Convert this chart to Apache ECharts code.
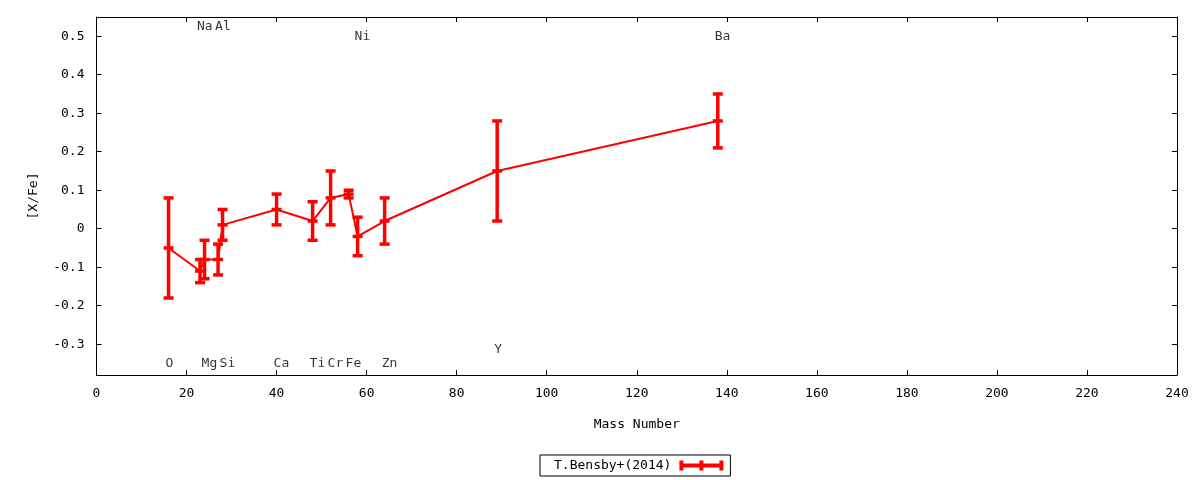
<!DOCTYPE html>
<html>
<head>
<meta charset="utf-8">
<script src="https://cdn.jsdelivr.net/npm/echarts@6/dist/echarts.min.js"></script>
<style>
html,body{margin:0;padding:0;background:#fff;}
#chart{width:1200px;height:480px;}
</style>
</head>
<body>
<div id="chart"></div>
<script>
// Data
var massNumbers = [16, 23, 24, 27, 28, 40, 48, 52, 56, 58, 64, 89, 138];
var xfeValues   = [-0.05, -0.11, -0.08, -0.08, 0.01, 0.05, 0.02, 0.08, 0.09, -0.02, 0.02, 0.15, 0.28];
var xfeErrors   = [0.13, 0.03, 0.05, 0.04, 0.04, 0.04, 0.05, 0.07, 0.01, 0.05, 0.06, 0.13, 0.07];

var labelNames = ['O', 'Na', 'Mg', 'Al', 'Si', 'Ca', 'Ti', 'Cr', 'Fe', 'Ni', 'Zn', 'Y', 'Ba'];
var labelX     = [16, 23, 24, 27, 28, 40, 48, 52, 56, 58, 64, 89, 138];
var labelY     = [-0.35, 0.525, -0.35, 0.525, -0.35, -0.35, -0.35, -0.35, -0.35, 0.5, -0.35, -0.315, 0.5];

var xTicks = {min: 0, max: 240, step: 20};
var yRange = {min: -0.38, max: 0.55};
var seriesName = 'T.Bensby+(2014)';

var FONT = '"DejaVu Sans Mono", "Liberation Mono", monospace';
var RED = '#ff0000';

var lineData = massNumbers.map(function (m, i) { return [m, xfeValues[i]]; });
var errData = massNumbers.map(function (m, i) {
  return [m, xfeValues[i] - xfeErrors[i], xfeValues[i] + xfeErrors[i], xfeValues[i]];
});
var labelData = labelNames.map(function (n, i) { return {name: n, value: [labelX[i], labelY[i]]}; });

function renderErr(params, api) {
  var x = api.value(0);
  var lo = api.coord([x, api.value(1)]);
  var hi = api.coord([x, api.value(2)]);
  var mid = api.coord([x, api.value(3)]);
  var cw = 5;
  var st = {stroke: RED, lineWidth: 3.5};
  var cs = {stroke: RED, lineWidth: 3.5};
  return {
    type: 'group',
    children: [
      {type: 'line', shape: {x1: hi[0], y1: hi[1], x2: lo[0], y2: lo[1]}, style: st},
      {type: 'line', shape: {x1: hi[0] - cw, y1: hi[1], x2: hi[0] + cw, y2: hi[1]}, style: cs},
      {type: 'line', shape: {x1: lo[0] - cw, y1: lo[1], x2: lo[0] + cw, y2: lo[1]}, style: cs},
      {type: 'line', shape: {x1: mid[0] - cw, y1: mid[1], x2: mid[0] + cw, y2: mid[1]}, style: cs}
    ]
  };
}

var chart = echarts.init(document.getElementById('chart'), null, {renderer: 'canvas'});

var axisLineStyle = {show: true, onZero: false, lineStyle: {color: '#000', width: 1}};
var textStyle = {color: '#000', fontFamily: FONT, fontSize: 13};

chart.setOption({
  animation: false,
  backgroundColor: '#fff',
  textStyle: textStyle,
  grid: {left: 96.5, right: 23, top: 17, bottom: 105, show: false},
  legend: {
    data: [{name: seriesName, icon: 'path://M0,3H44V7H0Z M0,0H4V10H0Z M20,0H24V10H20Z M40,0H44V10H40Z'}],
    left: 540, top: 455,
    align: 'right',
    itemWidth: 44, itemHeight: 10,
    symbolKeepAspect: false,
    borderColor: '#000', borderWidth: 1, borderRadius: 0,
    padding: [4, 7, 4, 14],
    itemGap: 10,
    textStyle: {color: '#000', fontFamily: FONT, fontSize: 13, padding: [0, 3, 0, 0]}
  },
  xAxis: [{
    type: 'value', min: xTicks.min, max: xTicks.max, interval: xTicks.step,
    position: 'bottom',
    name: 'Mass Number', nameLocation: 'middle', nameGap: 43,
    nameTextStyle: textStyle,
    axisLine: axisLineStyle,
    axisTick: {inside: true, length: 5, lineStyle: {color: '#000'}},
    axisLabel: {color: '#000', fontFamily: FONT, fontSize: 13, margin: 12},
    splitLine: {show: false}
  }, {
    type: 'value', min: xTicks.min, max: xTicks.max, interval: xTicks.step,
    position: 'top',
    axisLine: axisLineStyle,
    axisTick: {inside: true, length: 5, lineStyle: {color: '#000'}},
    axisLabel: {show: false},
    splitLine: {show: false}
  }],
  yAxis: [{
    type: 'value', min: yRange.min, max: yRange.max, splitNumber: 9,
    position: 'left',
    name: '[X/Fe]', nameLocation: 'middle', nameGap: 56, nameRotate: 90,
    nameTextStyle: textStyle,
    axisLine: axisLineStyle,
    axisTick: {inside: true, length: 5, lineStyle: {color: '#000'}},
    axisLabel: {
      color: '#000', fontFamily: FONT, fontSize: 13, margin: 12,
      showMinLabel: false, showMaxLabel: false,
      formatter: function (v) { return Math.abs(v) < 1e-9 ? '0' : v.toFixed(1); }
    },
    splitLine: {show: false}
  }, {
    type: 'value', min: yRange.min, max: yRange.max, splitNumber: 9,
    position: 'right',
    axisLine: axisLineStyle,
    axisTick: {inside: true, length: 5, lineStyle: {color: '#000'}},
    axisLabel: {show: false},
    splitLine: {show: false}
  }],
  series: [{
    name: seriesName,
    type: 'line',
    data: lineData,
    showSymbol: false,
    symbol: 'none',
    itemStyle: {color: RED},
    lineStyle: {color: RED, width: 2},
    z: 3
  }, {
    name: 'err',
    type: 'custom',
    renderItem: renderErr,
    data: errData,
    encode: {x: 0, y: [1, 2]},
    z: 4
  }, {
    name: 'labels',
    type: 'scatter',
    data: labelData,
    symbolSize: 0,
    silent: true,
    label: {
      show: true, position: 'right', distance: 0, offset: [-3, 0],
      formatter: '{b}', color: '#000', fontFamily: FONT, fontSize: 13
    },
    z: 5
  }]
});
</script>
</body>
</html>
